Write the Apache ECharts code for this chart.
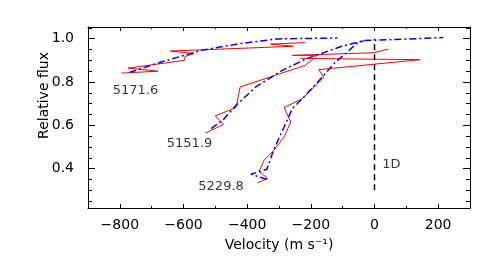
<!DOCTYPE html>
<html><head><meta charset="utf-8">
<script src="https://cdn.jsdelivr.net/npm/echarts@6/dist/echarts.min.js"></script>
<style>html,body{margin:0;padding:0;background:#fff}#c{width:496px;height:264px}</style>
</head><body><div id="c"></div>
<script>
// ---- data (velocity m/s, relative flux) ----
const red5171 = [[-795,0.841],[-680,0.850],[-774,0.864],[-597,0.900],[-595,0.918],[-567,0.931],[-641,0.943],[-255,0.965],[-326,0.975],[-217,0.982]];
const blue5171 = [[-770,0.844],[-670,0.892],[-545,0.946],[-420,0.978],[-305,0.999],[-117,1.003]];
const red5151 = [[-531,0.564],[-474,0.604],[-500,0.643],[-435,0.682],[-422,0.777],[-217,0.877],[-180,0.923],[-258,0.923],[-3,0.935],[44,0.952]];
const blue5151 = [[-513,0.585],[-477,0.623],[-435,0.692],[-373,0.777],[-289,0.854],[-211,0.909],[-107,0.963],[-34,0.991],[216,1.005]];
const red5229 = [[-368,0.334],[-336,0.354],[-362,0.388],[-347,0.438],[-316,0.485],[-284,0.546],[-263,0.615],[-284,0.682],[-238,0.715],[-227,0.723],[-159,0.821],[-175,0.857],[143,0.903],[-232,0.909]];
const blue5229 = [[-338,0.350],[-388,0.374],[-338,0.397],[-317,0.485],[-284,0.592],[-258,0.677],[-217,0.738],[-164,0.823],[-123,0.891],[-55,0.978],[-34,0.991]];
const zeroLine = [[0,0.30],[0,1.0]];
const lineLabels = [
  {name:'5171.6', value:[-751,0.761]},
  {name:'5151.9', value:[-581,0.515]},
  {name:'5229.8', value:[-482,0.315]}
];
const dLabel = [{name:'1D', value:[24,0.42]}];
const xMajor = [-800,-600,-400,-200,0,200];
const xMinor = [-700,-500,-300,-100,100];
const yMajor = [0.4,0.6,0.8,1.0];
const yMinor = [0.25,0.3,0.35,0.45,0.5,0.55,0.65,0.7,0.75,0.85,0.9,0.95,1.05];
const xRange = [-900,300];
const yRange = [0.218,1.054];

const FONT = 'DejaVu Sans';
const fmtX = v => (v<0 ? '\u2212'+Math.abs(v) : String(v));
function xAx(pos, ticks, len, showLine, showLabel){
  return {type:'value', position:pos, min:xRange[0], max:xRange[1],
    axisLine:{show:showLine, onZero:false, lineStyle:{color:'#000', width:1}},
    axisTick:{show:true, inside:true, length:len, customValues:ticks, lineStyle:{color:'#000'}},
    axisLabel:{show:showLabel, customValues:ticks, formatter:fmtX, color:'#000', fontFamily:FONT, fontSize:14, margin:10},
    splitLine:{show:false},
    name: showLabel ? 'Velocity (m s\u207B\u00B9)' : '', nameLocation:'middle', nameGap:30, nameMoveOverlap:false,
    nameTextStyle:{color:'#000', fontFamily:FONT, fontSize:14}};
}
function yAx(pos, ticks, len, showLine, showLabel){
  return {type:'value', position:pos, min:yRange[0], max:yRange[1],
    axisLine:{show:showLine, onZero:false, lineStyle:{color:'#000', width:1}},
    axisTick:{show:true, inside:true, length:len, customValues:ticks, lineStyle:{color:'#000'}},
    axisLabel:{show:showLabel, customValues:ticks, formatter:v=>v.toFixed(1), color:'#000', fontFamily:FONT, fontSize:14, margin:14},
    splitLine:{show:false},
    name: showLabel ? 'Relative flux' : '', nameLocation:'middle', nameGap:37, nameRotate:90, nameMoveOverlap:false,
    nameTextStyle:{color:'#000', fontFamily:FONT, fontSize:14, padding:[0,0,0,44]}};
}
const chart = echarts.init(document.getElementById('c'), null, {renderer:'canvas'});
const redStyle = {color:'#ff0000', width:1};
const blueStyle = {color:'#0000ff', width:1.5, type:[7,3,2,3]};
function ln(data, style){
  return {type:'line', data:data, xAxisIndex:0, yAxisIndex:0, symbol:'none', lineStyle:style, animation:false, silent:true};
}
chart.setOption({
  animation:false,
  grid:{left:88, top:27, right:26, bottom:56},
  xAxis:[xAx('bottom', xMajor, 4, true, true), xAx('bottom', xMinor, 2, false, false),
         xAx('top', xMajor, 4, true, false), xAx('top', xMinor, 2, false, false)],
  yAxis:[yAx('left', yMajor, 7, true, true), yAx('left', yMinor, 4, false, false),
         yAx('right', yMajor, 7, true, false), yAx('right', yMinor, 4, false, false)],
  series:[
    ln(red5171, redStyle), ln(blue5171, blueStyle),
    ln(red5151, redStyle), ln(blue5151, blueStyle),
    ln(red5229, redStyle), ln(blue5229, blueStyle),
    ln(zeroLine, {color:'#000', width:1.5, type:[6,4]}),
    {type:'scatter', data:lineLabels, symbolSize:0, xAxisIndex:0, yAxisIndex:0, animation:false,
      label:{show:true, position:'inside', formatter:p=>p.name, color:'#000', fontFamily:FONT, fontSize:13}},
    {type:'scatter', data:dLabel, symbolSize:0, xAxisIndex:0, yAxisIndex:0, animation:false,
      label:{show:true, position:'right', distance:0, formatter:p=>p.name, color:'#000', fontFamily:FONT, fontSize:13}}
  ]
});
</script></body></html>
